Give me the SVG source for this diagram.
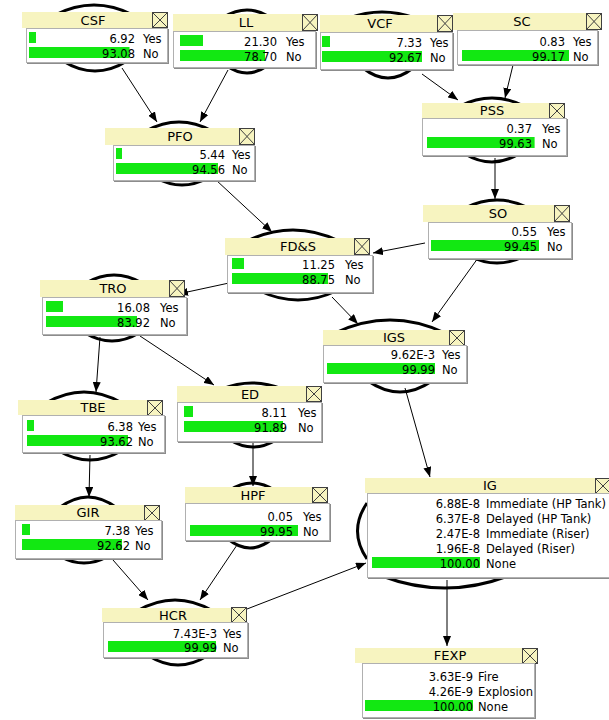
<svg xmlns="http://www.w3.org/2000/svg" width="609" height="720" viewBox="0 0 609 720">
<defs>
<marker id="ah" viewBox="0 0 10 8" refX="10" refY="4" markerWidth="10" markerHeight="8" markerUnits="userSpaceOnUse" orient="auto"><path d="M0 0L10 4L0 8z" fill="#000"/></marker>
<style>
.ov{fill:none;stroke:#000;stroke-width:3}
.tb{fill:#F7F4C0}
.xb{fill:#F7F4C0;stroke:#404040;stroke-width:1}
.xl{stroke:#404040;stroke-width:1;fill:none}
.sh{fill:#8c8c8c}
.bd{fill:#fff;stroke:#b0b0b0;stroke-width:1}
.bar{fill:#12E812}
.tt{font-family:"DejaVu Sans",sans-serif;font-size:13px;text-anchor:middle;fill:#000}
.v{font-family:"DejaVu Sans",sans-serif;font-size:11.5px;text-anchor:end;fill:#000}
.l{font-family:"DejaVu Sans",sans-serif;font-size:11.5px;fill:#000}
.cn{stroke:#000;stroke-width:1;fill:none;marker-end:url(#ah)}
</style>
</defs>
<rect width="609" height="720" fill="#fff"/>
<g id="connectors">
<line class="cn" x1="122" y1="68" x2="157" y2="122"/>
<line class="cn" x1="228" y1="70" x2="200" y2="122"/>
<line class="cn" x1="422" y1="74" x2="458" y2="100"/>
<line class="cn" x1="513" y1="65" x2="505" y2="98"/>
<line class="cn" x1="495" y1="158" x2="495" y2="199"/>
<line class="cn" x1="425" y1="243" x2="373" y2="253"/>
<line class="cn" x1="216" y1="180" x2="272" y2="232"/>
<line class="cn" x1="332" y1="297" x2="358" y2="324"/>
<line class="cn" x1="478" y1="258" x2="432" y2="322"/>
<line class="cn" x1="229" y1="283" x2="178" y2="294"/>
<line class="cn" x1="100" y1="337" x2="96" y2="392"/>
<line class="cn" x1="140" y1="336" x2="214" y2="385"/>
<line class="cn" x1="90" y1="455" x2="89" y2="497"/>
<line class="cn" x1="253" y1="442" x2="253" y2="486"/>
<line class="cn" x1="113" y1="560" x2="148" y2="600"/>
<line class="cn" x1="237" y1="545" x2="200" y2="600"/>
<line class="cn" x1="247" y1="609" x2="366" y2="563"/>
<line class="cn" x1="405" y1="388" x2="430" y2="477"/>
<line class="cn" x1="447" y1="580" x2="447" y2="646"/>
</g>
<g id="VCF">
<path class="ov" d="M349 18Q382 6 415 18M363 68Q388 88 413 68"/>
<rect class="tb" x="320" y="15" width="133" height="17"/>
<rect class="xb" x="437.5" y="15.5" width="15" height="16"/>
<path class="xl" d="M437.5 15.5L452.5 31.5M452.5 15.5L437.5 31.5"/>
<rect class="sh" x="321" y="33" width="133" height="38"/>
<rect class="bd" x="320.5" y="32.5" width="132" height="37"/>
<rect class="bar" x="322" y="36" width="8" height="11"/>
<rect class="bar" x="322" y="51" width="100" height="11"/>
<text class="tt" x="380" y="28">VCF</text>
<text class="v" x="422" y="46.5">7.33</text><text class="l" x="430" y="46.5">Yes</text>
<text class="v" x="422" y="61.5">92.67</text><text class="l" x="430" y="61.5">No</text>
</g>
<g id="LL">
<path class="ov" d="M224 17Q247 3 270 17M227 66Q247 80 267 66"/>
<rect class="tb" x="173" y="14" width="145" height="17"/>
<rect class="xb" x="302.5" y="14.5" width="15" height="16"/>
<path class="xl" d="M302.5 14.5L317.5 30.5M317.5 14.5L302.5 30.5"/>
<rect class="sh" x="174" y="32" width="143" height="37"/>
<rect class="bd" x="173.5" y="31.5" width="142" height="36"/>
<rect class="bar" x="180" y="35" width="23" height="11"/>
<rect class="bar" x="180" y="50" width="85" height="11"/>
<text class="tt" x="246" y="27">LL</text>
<text class="v" x="277" y="45.5">21.30</text><text class="l" x="286" y="45.5">Yes</text>
<text class="v" x="277" y="60.5">78.70</text><text class="l" x="286" y="60.5">No</text>
</g>
<g id="CSF">
<path class="ov" d="M55 15Q94 -5 133 15M63 61Q95 81 127 61"/>
<rect class="tb" x="22" y="12" width="146" height="16"/>
<rect class="xb" x="152.5" y="12.5" width="15" height="15"/>
<path class="xl" d="M152.5 12.5L167.5 27.5M167.5 12.5L152.5 27.5"/>
<rect class="sh" x="27" y="29" width="142" height="35"/>
<rect class="bd" x="26.5" y="28.5" width="141" height="34"/>
<rect class="bar" x="29" y="32" width="7" height="11"/>
<rect class="bar" x="29" y="47" width="100.5" height="11"/>
<text class="tt" x="93" y="25">CSF</text>
<text class="v" x="135" y="42.5">6.92</text><text class="l" x="143" y="42.5">Yes</text>
<text class="v" x="135" y="57.5">93.08</text><text class="l" x="143" y="57.5">No</text>
</g>
<g id="SC">
<rect class="tb" x="453" y="13" width="149" height="17"/>
<rect class="xb" x="586.5" y="13.5" width="15" height="16"/>
<path class="xl" d="M586.5 13.5L601.5 29.5M601.5 13.5L586.5 29.5"/>
<rect class="sh" x="458" y="31" width="141" height="35"/>
<rect class="bd" x="457.5" y="30.5" width="140" height="34"/>
<rect class="bar" x="462" y="50" width="107" height="11"/>
<text class="tt" x="522" y="26">SC</text>
<text class="v" x="565" y="45.5">0.83</text><text class="l" x="573" y="45.5">Yes</text>
<text class="v" x="565" y="60.5">99.17</text><text class="l" x="573" y="60.5">No</text>
</g>
<g id="PFO">
<path class="ov" d="M146 131Q179 113 212 131M156 178Q182 192 208 178"/>
<rect class="tb" x="105" y="128" width="150" height="17"/>
<rect class="xb" x="239.5" y="128.5" width="15" height="16"/>
<path class="xl" d="M239.5 128.5L254.5 144.5M254.5 128.5L239.5 144.5"/>
<rect class="sh" x="114" y="146" width="142" height="36"/>
<rect class="bd" x="113.5" y="145.5" width="141" height="35"/>
<rect class="bar" x="116" y="148" width="6" height="11"/>
<rect class="bar" x="116" y="163" width="102" height="11"/>
<text class="tt" x="180" y="141">PFO</text>
<text class="v" x="225" y="158.5">5.44</text><text class="l" x="232" y="158.5">Yes</text>
<text class="v" x="225" y="173.5">94.56</text><text class="l" x="232" y="173.5">No</text>
</g>
<g id="PSS">
<path class="ov" d="M460 106Q492 90 524 106M465 154Q492 170 519 154"/>
<rect class="tb" x="422" y="103" width="143" height="15"/>
<rect class="xb" x="549.5" y="103.5" width="15" height="15"/>
<path class="xl" d="M549.5 103.5L564.5 118.5M564.5 103.5L549.5 118.5"/>
<rect class="sh" x="423" y="119" width="145" height="38"/>
<rect class="bd" x="422.5" y="118.5" width="144" height="37"/>
<rect class="bar" x="427" y="137" width="107.6" height="11"/>
<text class="tt" x="492" y="115">PSS</text>
<text class="v" x="532" y="132.5">0.37</text><text class="l" x="542" y="132.5">Yes</text>
<text class="v" x="532" y="147.5">99.63</text><text class="l" x="542" y="147.5">No</text>
</g>
<g id="SO">
<path class="ov" d="M465 208Q497 192 529 208M469 256Q497 270 525 256"/>
<rect class="tb" x="423" y="205" width="147" height="17"/>
<rect class="xb" x="554.5" y="205.5" width="15" height="16"/>
<path class="xl" d="M554.5 205.5L569.5 221.5M569.5 205.5L554.5 221.5"/>
<rect class="sh" x="429" y="223" width="144" height="37"/>
<rect class="bd" x="428.5" y="222.5" width="143" height="36"/>
<rect class="bar" x="431" y="240" width="108" height="11"/>
<text class="tt" x="498" y="218">SO</text>
<text class="v" x="537" y="235.5">0.55</text><text class="l" x="547" y="235.5">Yes</text>
<text class="v" x="537" y="250.5">99.45</text><text class="l" x="547" y="250.5">No</text>
</g>
<g id="FDS">
<path class="ov" d="M247 241Q293 219 339 241M260 291Q298 309 336 291"/>
<rect class="tb" x="225" y="238" width="145" height="17"/>
<rect class="xb" x="354.5" y="238.5" width="15" height="16"/>
<path class="xl" d="M354.5 238.5L369.5 254.5M369.5 238.5L354.5 254.5"/>
<rect class="sh" x="228" y="256" width="146" height="38"/>
<rect class="bd" x="227.5" y="255.5" width="145" height="37"/>
<rect class="bar" x="232" y="258" width="12" height="11"/>
<rect class="bar" x="232" y="273" width="96" height="11"/>
<text class="tt" x="298" y="251">FD&amp;S</text>
<text class="v" x="335" y="268.5">11.25</text><text class="l" x="345" y="268.5">Yes</text>
<text class="v" x="335" y="283.5">88.75</text><text class="l" x="345" y="283.5">No</text>
</g>
<g id="TRO">
<path class="ov" d="M86 283Q114 267 142 283M85 333Q112 349 139 333"/>
<rect class="tb" x="40" y="280" width="145" height="17"/>
<rect class="xb" x="169.5" y="280.5" width="15" height="16"/>
<path class="xl" d="M169.5 280.5L184.5 296.5M184.5 280.5L169.5 296.5"/>
<rect class="sh" x="43" y="298" width="145" height="38"/>
<rect class="bd" x="42.5" y="297.5" width="144" height="37"/>
<rect class="bar" x="46" y="301" width="17" height="11"/>
<rect class="bar" x="46" y="316" width="91" height="11"/>
<text class="tt" x="113" y="293">TRO</text>
<text class="v" x="150" y="311.5">16.08</text><text class="l" x="160" y="311.5">Yes</text>
<text class="v" x="150" y="326.5">83.92</text><text class="l" x="160" y="326.5">No</text>
</g>
<g id="IGS">
<path class="ov" d="M335 333Q390 307 445 333M368 381Q400 403 432 381"/>
<rect class="tb" x="323" y="330" width="142" height="15"/>
<rect class="xb" x="449.5" y="330.5" width="15" height="15"/>
<path class="xl" d="M449.5 330.5L464.5 345.5M464.5 330.5L449.5 345.5"/>
<rect class="sh" x="324" y="346" width="144" height="38"/>
<rect class="bd" x="323.5" y="345.5" width="143" height="37"/>
<rect class="bar" x="327" y="363" width="108" height="11"/>
<text class="tt" x="394" y="342">IGS</text>
<text class="v" x="435" y="358.5">9.62E-3</text><text class="l" x="442" y="358.5">Yes</text>
<text class="v" x="435" y="373.5">99.99</text><text class="l" x="442" y="373.5">No</text>
</g>
<g id="TBE">
<path class="ov" d="M46 403Q84 381 122 403M59 451Q90 469 121 451"/>
<rect class="tb" x="18" y="400" width="145" height="15"/>
<rect class="xb" x="147.5" y="400.5" width="15" height="15"/>
<path class="xl" d="M147.5 400.5L162.5 415.5M162.5 400.5L147.5 415.5"/>
<rect class="sh" x="23" y="416" width="143" height="38"/>
<rect class="bd" x="22.5" y="415.5" width="142" height="37"/>
<rect class="bar" x="27" y="420" width="7" height="11"/>
<rect class="bar" x="27" y="435" width="101" height="11"/>
<text class="tt" x="93" y="412">TBE</text>
<text class="v" x="133" y="430.5">6.38</text><text class="l" x="138" y="430.5">Yes</text>
<text class="v" x="133" y="445.5">93.62</text><text class="l" x="138" y="445.5">No</text>
</g>
<g id="ED">
<path class="ov" d="M222 389Q252 377 282 389M230 440Q253 454 276 440"/>
<rect class="tb" x="177" y="386" width="145" height="16"/>
<rect class="xb" x="306.5" y="386.5" width="15" height="15"/>
<path class="xl" d="M306.5 386.5L321.5 401.5M321.5 386.5L306.5 401.5"/>
<rect class="sh" x="178" y="403" width="145" height="40"/>
<rect class="bd" x="177.5" y="402.5" width="144" height="39"/>
<rect class="bar" x="184" y="406" width="9" height="11"/>
<rect class="bar" x="184" y="421" width="99" height="11"/>
<text class="tt" x="250" y="399">ED</text>
<text class="v" x="287" y="416.5">8.11</text><text class="l" x="298" y="416.5">Yes</text>
<text class="v" x="287" y="431.5">91.89</text><text class="l" x="298" y="431.5">No</text>
</g>
<g id="GIR">
<path class="ov" d="M59 508Q88 486 117 508M61 557Q84 569 107 557"/>
<rect class="tb" x="15" y="505" width="145" height="15"/>
<rect class="xb" x="144.5" y="505.5" width="15" height="15"/>
<path class="xl" d="M144.5 505.5L159.5 520.5M159.5 505.5L144.5 520.5"/>
<rect class="sh" x="16" y="521" width="147" height="39"/>
<rect class="bd" x="15.5" y="520.5" width="146" height="38"/>
<rect class="bar" x="22" y="524" width="8" height="11"/>
<rect class="bar" x="22" y="539" width="100" height="11"/>
<text class="tt" x="88" y="517">GIR</text>
<text class="v" x="130" y="534.5">7.38</text><text class="l" x="135" y="534.5">Yes</text>
<text class="v" x="130" y="549.5">92.62</text><text class="l" x="135" y="549.5">No</text>
</g>
<g id="HPF">
<path class="ov" d="M230 490Q252 476 274 490M228 539Q250 557 272 539"/>
<rect class="tb" x="185" y="487" width="143" height="16"/>
<rect class="xb" x="312.5" y="487.5" width="15" height="15"/>
<path class="xl" d="M312.5 487.5L327.5 502.5M327.5 487.5L312.5 502.5"/>
<rect class="sh" x="186" y="504" width="145" height="38"/>
<rect class="bd" x="185.5" y="503.5" width="144" height="37"/>
<rect class="bar" x="190" y="525" width="108" height="11"/>
<text class="tt" x="253" y="500">HPF</text>
<text class="v" x="293" y="520.5">0.05</text><text class="l" x="303" y="520.5">Yes</text>
<text class="v" x="293" y="535.5">99.95</text><text class="l" x="303" y="535.5">No</text>
</g>
<g id="HCR">
<path class="ov" d="M137 611Q175 589 213 611M149 656Q178 674 207 656"/>
<rect class="tb" x="102" y="608" width="145" height="14"/>
<rect class="xb" x="231.5" y="607.5" width="15" height="15"/>
<path class="xl" d="M231.5 607.5L246.5 622.5M246.5 607.5L231.5 622.5"/>
<rect class="sh" x="104" y="623" width="145" height="36"/>
<rect class="bd" x="103.5" y="622.5" width="144" height="35"/>
<rect class="bar" x="108" y="641" width="108" height="11"/>
<text class="tt" x="173" y="620">HCR</text>
<text class="v" x="217" y="637.5">7.43E-3</text><text class="l" x="223" y="637.5">Yes</text>
<text class="v" x="217" y="651.5">99.99</text><text class="l" x="223" y="651.5">No</text>
</g>
<g id="IG">
<path class="ov" d="M367 503Q348 531 367 559M382 576Q445 600 508 576"/>
<rect class="tb" x="365" y="478" width="246" height="15"/>
<rect class="xb" x="595.5" y="478.5" width="15" height="15"/>
<path class="xl" d="M595.5 478.5L610.5 493.5M610.5 478.5L595.5 493.5"/>
<rect class="sh" x="368" y="494" width="245" height="85"/>
<rect class="bd" x="367.5" y="493.5" width="244" height="84"/>
<rect class="bar" x="372" y="557" width="108" height="11"/>
<text class="tt" x="490" y="490">IG</text>
<text class="v" x="480" y="507.5">6.88E-8</text><text class="l" x="486" y="507.5">Immediate (HP Tank)</text>
<text class="v" x="480" y="522.5">6.37E-8</text><text class="l" x="486" y="522.5">Delayed (HP Tank)</text>
<text class="v" x="480" y="537.5">2.47E-8</text><text class="l" x="486" y="537.5">Immediate (Riser)</text>
<text class="v" x="480" y="552.5">1.96E-8</text><text class="l" x="486" y="552.5">Delayed (Riser)</text>
<text class="v" x="480" y="567.5">100.00</text><text class="l" x="486" y="567.5">None</text>
</g>
<g id="FEXP">
<rect class="tb" x="355" y="648" width="183" height="15"/>
<rect class="xb" x="522.5" y="648.5" width="15" height="15"/>
<path class="xl" d="M522.5 648.5L537.5 663.5M537.5 648.5L522.5 663.5"/>
<rect class="sh" x="363" y="664" width="173" height="55"/>
<rect class="bd" x="362.5" y="663.5" width="172" height="54"/>
<rect class="bar" x="365" y="700" width="108" height="11"/>
<text class="tt" x="450" y="660">FEXP</text>
<text class="v" x="473" y="680.5">3.63E-9</text><text class="l" x="478" y="680.5">Fire</text>
<text class="v" x="473" y="695.5">4.26E-9</text><text class="l" x="478" y="695.5">Explosion</text>
<text class="v" x="473" y="710.5">100.00</text><text class="l" x="478" y="710.5">None</text>
</g>
</svg>
